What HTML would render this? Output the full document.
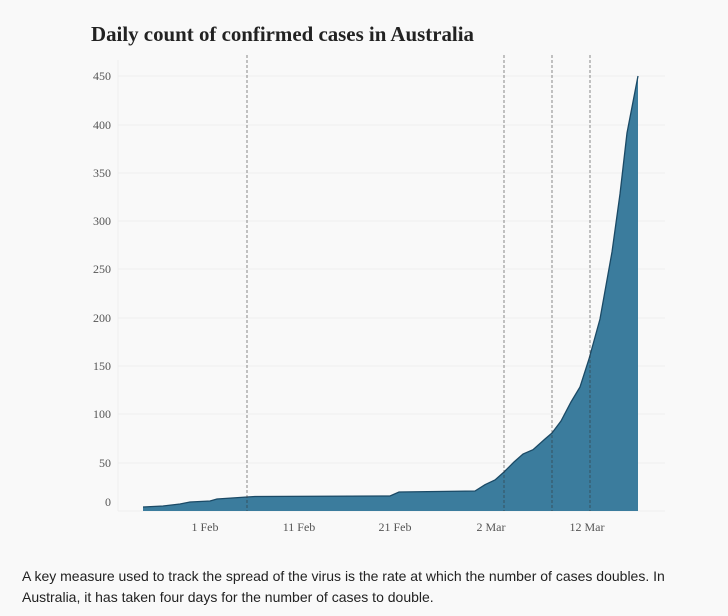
<!DOCTYPE html>
<html><head><meta charset="utf-8"><style>
body{margin:0;background:#f9f9f9;width:728px;height:616px;overflow:hidden}
p{position:absolute;left:22px;top:566px;margin:0;width:700px;font:14px/21px "Liberation Sans",sans-serif;color:#222}
</style></head><body>
<svg width="728" height="560" style="position:absolute;left:0;top:0" font-family="Liberation Serif, serif">
<text x="91" y="41" font-size="20.9" font-weight="bold" fill="#222">Daily count of confirmed cases in Australia</text>
<g stroke="#eeeeee" stroke-width="1">
<line x1="118" x2="665" y1="76" y2="76"/><line x1="118" x2="665" y1="125" y2="125"/><line x1="118" x2="665" y1="173" y2="173"/><line x1="118" x2="665" y1="221" y2="221"/><line x1="118" x2="665" y1="269" y2="269"/><line x1="118" x2="665" y1="318" y2="318"/><line x1="118" x2="665" y1="366" y2="366"/><line x1="118" x2="665" y1="414" y2="414"/><line x1="118" x2="665" y1="463" y2="463"/><line x1="118" x2="665" y1="511" y2="511"/>
<line x1="118" x2="118" y1="60" y2="511"/>
</g>
<g font-size="12" fill="#555" text-anchor="end">
<text x="111" y="80">450</text><text x="111" y="129">400</text><text x="111" y="177">350</text><text x="111" y="225">300</text><text x="111" y="273">250</text><text x="111" y="322">200</text><text x="111" y="370">150</text><text x="111" y="418">100</text><text x="111" y="467">50</text><text x="111" y="506">0</text>
</g>
<g font-size="12" fill="#555" text-anchor="middle">
<text x="205" y="531">1 Feb</text><text x="299" y="531">11 Feb</text><text x="395" y="531">21 Feb</text><text x="491" y="531">2 Mar</text><text x="587" y="531">12 Mar</text>
</g>
<path d="M143,511 L143,507 L163,506 L180,504 L190,502 L210,501 L217,499 L247,497 L255,496.5 L390,496 L399,492 L475,491 L485,484.7 L495,480 L504,472 L514,462 L523,454 L533,449.7 L545,439 L552,433 L561,421 L571,402 L580,387 L589,359 L600,319 L612,252 L620,194 L627,133 L638,76 L638,511 Z" fill="#3b7c9d" stroke="none"/>
<path d="M143,507 L163,506 L180,504 L190,502 L210,501 L217,499 L247,497 L255,496.5 L390,496 L399,492 L475,491 L485,484.7 L495,480 L504,472 L514,462 L523,454 L533,449.7 L545,439 L552,433 L561,421 L571,402 L580,387 L589,359 L600,319 L612,252 L620,194 L627,133 L638,76" fill="none" stroke="#1b4a66" stroke-width="1.3"/>
<g stroke="#333" stroke-opacity="0.7" stroke-width="0.8" stroke-dasharray="3,2">
<line x1="247" x2="247" y1="55" y2="511"/><line x1="504" x2="504" y1="55" y2="511"/><line x1="552" x2="552" y1="55" y2="511"/><line x1="590" x2="590" y1="55" y2="511"/>
</g>
</svg>
<p>A key measure used to track the spread of the virus is the rate at which the number of cases doubles. In Australia, it has taken four days for the number of cases to double.</p>
</body></html>
